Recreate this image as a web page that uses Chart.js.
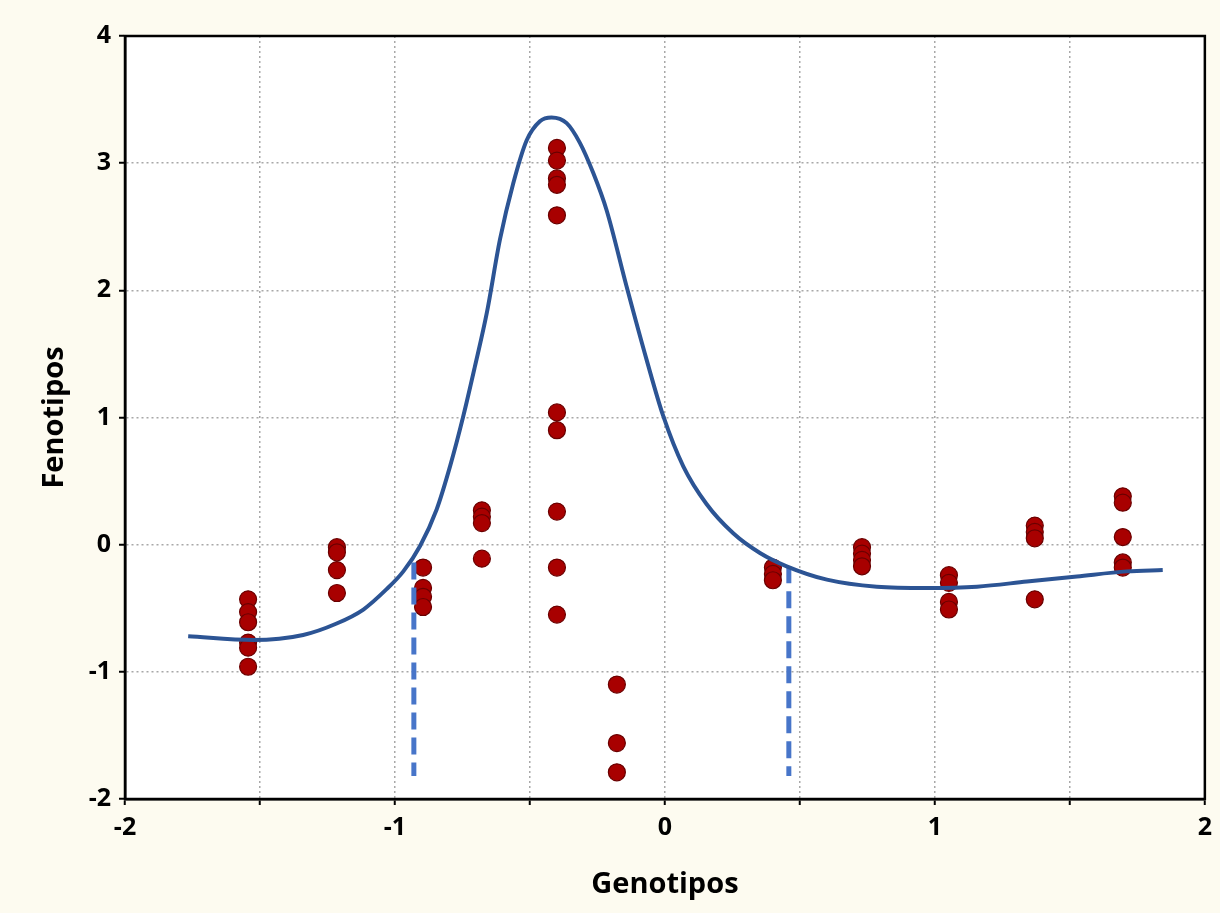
<!DOCTYPE html>
<html>
<head>
<meta charset="utf-8">
<script src="https://cdn.jsdelivr.net/npm/chart.js@4/dist/chart.umd.min.js"></script>
<style>
  body { margin: 0; background: #fdfbf0; }
  #wrap { width: 1220px; height: 913px; }
</style>
</head>
<body>
<div id="wrap"><canvas id="chart" width="1220" height="913"></canvas></div>
<script>
// observed points: genotype value on x, phenotype on y
const genotipos = [
  -1.544, -1.544, -1.544, -1.544, -1.544, -1.544,
  -1.215, -1.215, -1.215, -1.215,
  -0.896, -0.896, -0.896, -0.896,
  -0.678, -0.678, -0.678, -0.678,
  -0.40, -0.40, -0.40, -0.40, -0.40, -0.40, -0.40, -0.40, -0.40, -0.40,
  -0.178, -0.178, -0.178,
  0.40, 0.40, 0.40,
  0.73, 0.73, 0.73, 0.73,
  1.052, 1.052, 1.052, 1.052,
  1.37, 1.37, 1.37, 1.37,
  1.696, 1.696, 1.696, 1.696, 1.696
];
const fenotipos = [
  -0.43, -0.53, -0.61, -0.77, -0.81, -0.96,
  -0.02, -0.06, -0.20, -0.38,
  -0.18, -0.34, -0.41, -0.49,
  0.27, 0.22, 0.17, -0.11,
  3.12, 3.02, 2.88, 2.83, 2.59, 1.04, 0.90, 0.26, -0.18, -0.55,
  -1.10, -1.56, -1.79,
  -0.18, -0.23, -0.28,
  -0.02, -0.07, -0.12, -0.17,
  -0.24, -0.30, -0.45, -0.51,
  0.15, 0.10, 0.05, -0.43,
  0.38, 0.33, 0.06, -0.14, -0.18
];

// fitted curve
const curveX = [-1.766, -1.525, -1.34, -1.216, -1.117, -1.031, -0.969, -0.907, -0.846, -0.796,
  -0.747, -0.704, -0.66, -0.611, -0.562, -0.512, -0.463, -0.42, -0.364, -0.315, -0.265, -0.216,
  -0.142, -0.068, -0.006, 0.068, 0.154, 0.253, 0.352, 0.451, 0.6, 0.785, 0.97, 1.156, 1.341,
  1.526, 1.711, 1.844];
const curveY = [-0.72, -0.75, -0.71, -0.62, -0.51, -0.35, -0.21, -0.01, 0.275, 0.616,
  1.01, 1.40, 1.82, 2.40, 2.84, 3.18, 3.33, 3.36, 3.315, 3.16, 2.92, 2.63,
  2.03, 1.455, 1.01, 0.616, 0.32, 0.09, -0.065, -0.17, -0.275, -0.33, -0.34, -0.33, -0.29,
  -0.25, -0.21, -0.20];

// vertical cut-off markers
const cutX = [-0.93, 0.459];
const cutTop = [-0.14, -0.17];
const cutBottom = -1.82;

const xTicks = [-2, -1, 0, 1, 2];
const yTicks = [-2, -1, 0, 1, 2, 3, 4];

const scatterData = genotipos.map((x, i) => ({ x: x, y: fenotipos[i] }));
const curveData = curveX.map((x, i) => ({ x: x, y: curveY[i] }));

const cutSets = cutX.map((x, i) => ({
  type: 'line',
  data: [{ x: x, y: cutTop[i] }, { x: x, y: cutBottom }],
  borderColor: '#4775c9',
  borderWidth: 5,
  borderDash: [17, 8],
  pointRadius: 0,
  order: 1
}));

const plotFrame = {
  id: 'plotFrame',
  beforeDraw(chart) {
    const { ctx, chartArea: a } = chart;
    ctx.save();
    ctx.fillStyle = '#fdfbf0';
    ctx.fillRect(0, 0, chart.width, chart.height);
    ctx.fillStyle = '#ffffff';
    ctx.fillRect(a.left, a.top, a.right - a.left, a.bottom - a.top);
    ctx.restore();
  },
  afterDraw(chart) {
    const { ctx, chartArea: a } = chart;
    ctx.save();
    ctx.strokeStyle = '#000';
    ctx.lineWidth = 2.5;
    ctx.strokeRect(a.left, a.top, a.right - a.left, a.bottom - a.top);
    ctx.restore();
  }
};

const tickFont = { family: 'Open Sans', size: 25, weight: 'bold' };
const titleFont = { family: 'Open Sans', size: 29, weight: 'bold' };

new Chart(document.getElementById('chart'), {
  type: 'scatter',
  data: {
    datasets: [
      {
        type: 'line',
        data: curveData,
        borderColor: '#2c5494',
        borderWidth: 4,
        pointRadius: 0,
        cubicInterpolationMode: 'monotone',
        order: 0
      },
      ...cutSets,
      {
        data: scatterData,
        backgroundColor: '#a80000',
        borderColor: '#6a0000',
        borderWidth: 1.2,
        pointRadius: 8.5,
        order: 2
      }
    ]
  },
  options: {
    responsive: false,
    animation: false,
    events: [],
    layout: { padding: { left: 0, top: 36, right: 15, bottom: 0 } },
    plugins: { legend: { display: false }, tooltip: { enabled: false } },
    scales: {
      x: {
        type: 'linear',
        min: -2,
        max: 2,
        afterFit(scale) { scale.height = 114; },
        ticks: {
          stepSize: 0.5,
          color: '#000',
          font: tickFont,
          padding: 8,
          maxRotation: 0,
          callback: v => xTicks.includes(v) ? String(v) : ''
        },
        grid: { color: '#a8a8a8', lineWidth: 1.5, tickColor: '#000', tickLength: 6, tickWidth: 2 },
        border: { display: true, color: '#000', width: 2.5, dash: [2, 3] },
        title: { display: true, text: 'Genotipos', color: '#000', font: titleFont, padding: { bottom: 11 } }
      },
      y: {
        type: 'linear',
        min: -2,
        max: 4,
        afterFit(scale) { scale.width = 125; },
        ticks: {
          stepSize: 1,
          color: '#000',
          font: tickFont,
          padding: 8,
          callback: v => yTicks.includes(v) ? String(v) : ''
        },
        grid: { color: '#a8a8a8', lineWidth: 1.5, tickColor: '#000', tickLength: 6, tickWidth: 2 },
        border: { display: true, color: '#000', width: 2.5, dash: [2, 3] },
        title: { display: true, text: 'Fenotipos', color: '#000', font: titleFont, padding: { top: 37 } }
      }
    }
  },
  plugins: [plotFrame]
});
</script>
</body>
</html>
